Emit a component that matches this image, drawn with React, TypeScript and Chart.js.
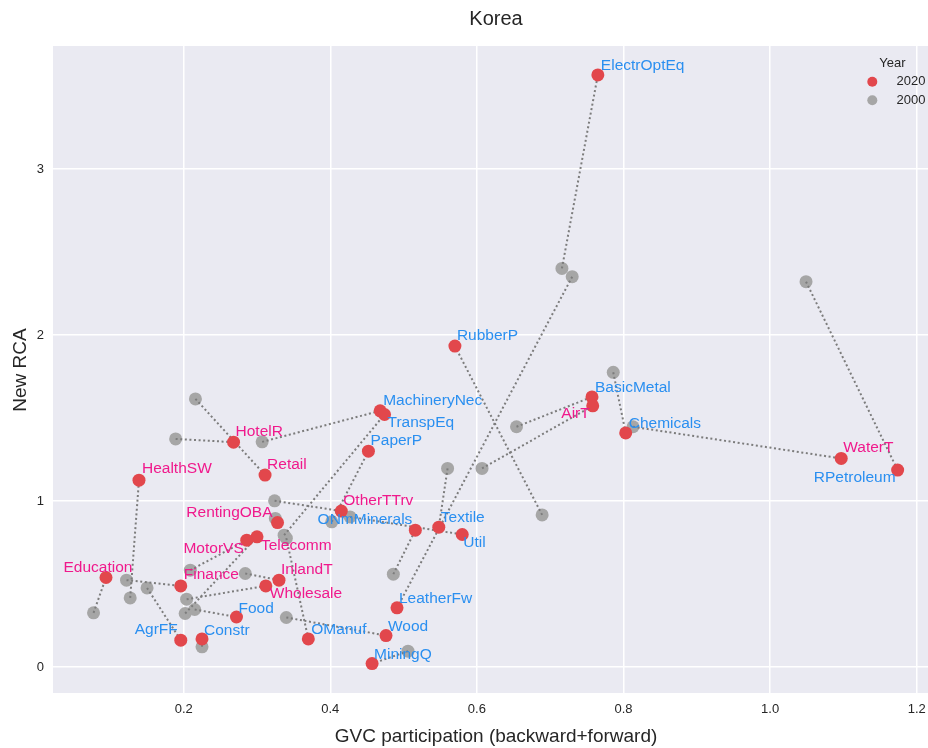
import React, { useEffect, useRef } from 'react';
import { Chart, registerables } from 'chart.js';

Chart.register(...registerables);

// ---------------- DATA ----------------
const sectors = [
  'ElectrOptEq', 'LeatherFw', 'RPetroleum', 'Chemicals', 'WaterT', 'BasicMetal', 'AirT', 'RubberP',
  'Retail', 'HotelR', 'MachineryNec', 'TranspEq', 'PaperP', 'OtherTTrv', 'ONmMinerals', 'Textile',
  'Util', 'Wood', 'MiningQ', 'OManuf', 'InlandT', 'Wholesale', 'Telecomm', 'MotorVS',
  'RentingOBA', 'HealthSW', 'Education', 'Finance', 'Food', 'AgrFF', 'Constr',
];

// S = services (pink label), G = goods/other (blue label)
const sectorType = [
  'G', 'G', 'G', 'G', 'S', 'G', 'S', 'G',
  'S', 'S', 'G', 'G', 'G', 'S', 'G', 'G',
  'G', 'G', 'G', 'G', 'S', 'S', 'S', 'S',
  'S', 'S', 'S', 'S', 'G', 'G', 'G',
];

const gvc2000 = [
  0.716, 0.730, 1.049, 0.786, 0.813, 0.654, 0.607, 0.689,
  0.216, 0.189, 0.307, 0.337, 0.402, 0.324, 0.486, 0.560,
  0.427, 0.340, 0.506, 0.340, 0.284, 0.204, 0.202, 0.209,
  0.325, 0.127, 0.077, 0.122, 0.215, 0.150, 0.225,
];
const rca2000 = [
  2.401, 2.351, 2.321, 1.775, 1.447, 1.447, 1.196, 0.916,
  1.615, 1.374, 1.356, 0.794, 0.874, 1.001, 0.559, 1.196,
  0.904, 0.298, 0.095, 0.776, 0.563, 0.408, 0.322, 0.583,
  0.895, 0.416, 0.326, 0.523, 0.346, 0.476, 0.121,
];
const gvc2020 = [
  0.765, 0.491, 1.174, 0.803, 1.097, 0.757, 0.758, 0.570,
  0.311, 0.268, 0.468, 0.474, 0.452, 0.415, 0.516, 0.548,
  0.580, 0.476, 0.457, 0.370, 0.330, 0.312, 0.300, 0.286,
  0.328, 0.139, 0.094, 0.196, 0.272, 0.196, 0.225,
];
const rca2020 = [
  3.567, 0.356, 1.186, 1.410, 1.256, 1.627, 1.573, 1.933,
  1.156, 1.354, 1.543, 1.521, 1.300, 0.939, 0.824, 0.842,
  0.798, 0.189, 0.020, 0.169, 0.523, 0.488, 0.784, 0.764,
  0.870, 1.125, 0.539, 0.488, 0.301, 0.161, 0.169,
];

const xTicks = [0.2, 0.4, 0.6, 0.8, 1.0, 1.2];
const xTickLabels = ['0.2', '0.4', '0.6', '0.8', '1.0', '1.2'];
const yTicks = [0, 1, 2, 3];
const yTickLabels = ['0', '1', '2', '3'];

const legendTitle = 'Year';
const legendYears = ['2020', '2000'];

// ---------------- LAYOUT / STYLE ----------------
// label placement relative to the 2020 point: [dx px, dy px, align]
const labelPlacement: [number, number, 'l' | 'r' | 'c'][] = [
  [3, -9, 'l'], [2, -9, 'l'], [-2, 8, 'r'], [3, -9, 'l'], [2, -11, 'l'], [3, -9, 'l'], [-3, 8, 'r'], [2, -10, 'l'],
  [2, -10, 'l'], [2, -10, 'l'], [3, -10, 'l'], [3, 8, 'l'], [2, -10, 'l'], [2, -10, 'l'], [-3, -10, 'r'], [2, -9, 'l'],
  [1, 8, 'l'], [2, -9, 'l'], [2, -9, 'l'], [3, -9, 'l'], [2, -10, 'l'], [4, 8, 'l'], [4, 9, 'l'], [-3, 9, 'r'],
  [-5, -10, 'r'], [3, -11, 'l'], [-8, -10, 'c'], [3, -11, 'l'], [2, -8, 'l'], [-3, -10, 'r'], [2, -8, 'l'],
];

const FONT = '"Liberation Sans", Arial, Helvetica, sans-serif';
const RED = '#e2474c';
const GRAY = '#a6a6a6';
const LINE = '#7c7c7c';
const PINK = '#f0198c';
const BLUE = '#2a8ff0';
const TEXT = '#262626';
const BG = '#eaeaf2';

const W = 928;
const H = 748;

export default function App() {
  const ref = useRef<HTMLCanvasElement>(null);

  useEffect(() => {
    document.body.style.margin = '0';
    const canvas = ref.current;
    if (!canvas) return;

    const bgPlugin = {
      id: 'bgPlugin',
      beforeDraw(chart: any) {
        const { ctx, chartArea } = chart;
        ctx.save();
        ctx.fillStyle = '#ffffff';
        ctx.fillRect(0, 0, chart.width, chart.height);
        ctx.fillStyle = BG;
        ctx.fillRect(chartArea.left, chartArea.top, chartArea.right - chartArea.left, chartArea.bottom - chartArea.top);
        ctx.restore();
      },
    };

    const labelPlugin = {
      id: 'labelPlugin',
      afterDatasetsDraw(chart: any) {
        const { ctx } = chart;
        const xs = chart.scales.x;
        const ys = chart.scales.y;
        ctx.save();
        ctx.font = `15.5px ${FONT}`;
        ctx.textBaseline = 'middle';
        sectors.forEach((name, i) => {
          const px = xs.getPixelForValue(gvc2020[i]);
          const py = ys.getPixelForValue(rca2020[i]);
          const [dx, dy, al] = labelPlacement[i];
          ctx.textAlign = al === 'l' ? 'left' : al === 'r' ? 'right' : 'center';
          ctx.fillStyle = sectorType[i] === 'S' ? PINK : BLUE;
          ctx.fillText(name, px + dx, py + dy);
        });
        ctx.restore();
      },
      afterDraw(chart: any) {
        const { ctx } = chart;
        ctx.save();
        ctx.fillStyle = TEXT;
        ctx.textBaseline = 'middle';
        ctx.textAlign = 'center';
        ctx.font = `20px ${FONT}`;
        ctx.fillText('Korea', 496, 19);
        ctx.font = `19px ${FONT}`;
        ctx.fillText('GVC participation (backward+forward)', 496, 737);
        ctx.save();
        ctx.translate(21, 370);
        ctx.rotate(-Math.PI / 2);
        ctx.fillText('New RCA', 0, 0);
        ctx.restore();

        // legend
        ctx.font = `13px ${FONT}`;
        ctx.textAlign = 'center';
        ctx.fillText(legendTitle, 892.5, 63.5);
        const colors = [RED, GRAY];
        legendYears.forEach((yr, k) => {
          const cy = 81.7 + k * 18.6;
          ctx.beginPath();
          ctx.fillStyle = colors[k];
          ctx.arc(872.3, cy, 5, 0, Math.PI * 2);
          ctx.fill();
          ctx.fillStyle = TEXT;
          ctx.textAlign = 'left';
          ctx.fillText(yr, 896.5, cy);
        });
        ctx.restore();
      },
    };

    const lineDatasets = sectors.map((s, i) => ({
      label: s,
      data: [
        { x: gvc2000[i], y: rca2000[i] },
        { x: gvc2020[i], y: rca2020[i] },
      ],
      showLine: true,
      borderColor: LINE,
      borderWidth: 2,
      borderDash: [2, 2.6],
      borderCapStyle: 'butt',
      pointRadius: 0,
      pointHoverRadius: 0,
      backgroundColor: LINE,
      fill: false,
      order: 1,
    }));

    const chart = new Chart(canvas, {
      type: 'scatter',
      data: {
        datasets: [
          {
            label: legendYears[0],
            data: sectors.map((_, i) => ({ x: gvc2020[i], y: rca2020[i] })),
            backgroundColor: RED,
            borderWidth: 0,
            pointRadius: 6.5,
            order: 0,
          },
          ...lineDatasets,
          {
            label: legendYears[1],
            data: sectors.map((_, i) => ({ x: gvc2000[i], y: rca2000[i] })),
            backgroundColor: GRAY,
            borderWidth: 0,
            pointRadius: 6.5,
            order: 2,
          },
        ] as any,
      },
      options: {
        animation: false,
        responsive: false,
        devicePixelRatio: 1,
        events: [],
        layout: { autoPadding: false, padding: { top: 46, left: 0, right: 0, bottom: 0 } },
        plugins: {
          legend: { display: false },
          title: { display: false },
          tooltip: { enabled: false },
        },
        scales: {
          x: {
            type: 'linear',
            min: 0.0217,
            max: 1.2154,
            afterBuildTicks: (axis: any) => {
              axis.ticks = xTicks.map((v) => ({ value: v }));
            },
            afterFit: (scale: any) => {
              scale.height = 55;
              scale.paddingLeft = 0;
              scale.paddingRight = 0;
            },
            grid: { color: '#ffffff', lineWidth: 1.5, drawTicks: false },
            border: { display: false },
            ticks: {
              padding: 9,
              color: TEXT,
              font: { family: FONT, size: 13 },
              callback: (v: any) => {
                const idx = xTicks.findIndex((t) => Math.abs(t - v) < 1e-9);
                return idx >= 0 ? xTickLabels[idx] : '';
              },
            },
          },
          y: {
            type: 'linear',
            min: -0.157,
            max: 3.741,
            afterBuildTicks: (axis: any) => {
              axis.ticks = yTicks.map((v) => ({ value: v }));
            },
            afterFit: (scale: any) => {
              scale.width = 53;
              scale.paddingTop = 0;
              scale.paddingBottom = 0;
            },
            grid: { color: '#ffffff', lineWidth: 1.5, drawTicks: false },
            border: { display: false },
            ticks: {
              padding: 9,
              color: TEXT,
              font: { family: FONT, size: 13 },
              callback: (v: any) => {
                const idx = yTicks.findIndex((t) => Math.abs(t - v) < 1e-9);
                return idx >= 0 ? yTickLabels[idx] : '';
              },
            },
          },
        },
      } as any,
      plugins: [bgPlugin, labelPlugin],
    });

    return () => {
      chart.destroy();
    };
  }, []);

  return (
    <div style={{ position: 'absolute', left: 0, top: 0, width: W, height: H, background: '#fff' }}>
      <canvas ref={ref} width={W} height={H} style={{ display: 'block', width: W, height: H }} />
    </div>
  );
}
